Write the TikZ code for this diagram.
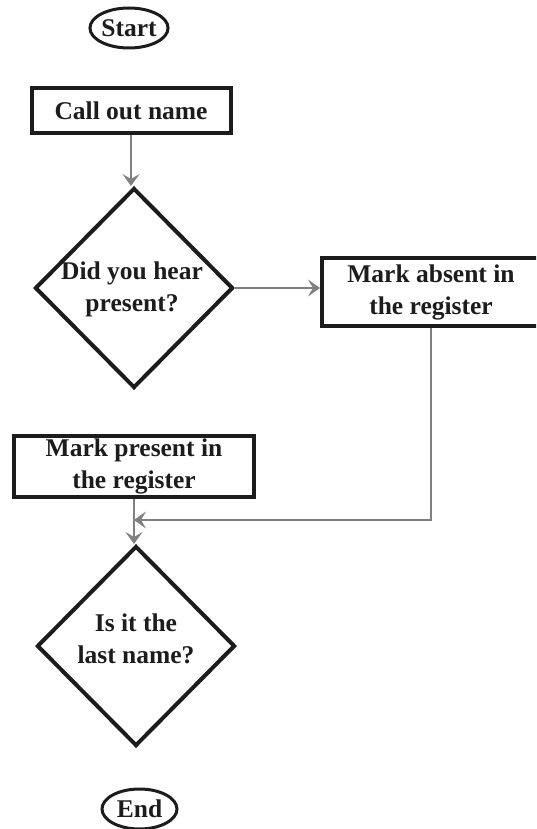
\documentclass[tikz,border=0pt]{standalone}
\usepackage{fontspec}
\setmainfont{Liberation Serif}
\usetikzlibrary{shapes.geometric,arrows.meta}
\definecolor{conngray}{RGB}{128,128,128}
\definecolor{ink}{RGB}{28,28,28}
\begin{document}
\begin{tikzpicture}[x=1pt,y=-1pt,
  lbl/.style={font=\bfseries\fontsize{25.5}{32}\selectfont, text=ink, align=center, inner sep=0pt},
  term/.style={lbl, ellipse, draw=ink, line width=3pt, minimum width=75pt, minimum height=40pt},
  proc/.style={lbl, rectangle, draw=ink, line width=4pt},
  dia/.style={diamond, draw=ink, line width=4pt, inner sep=0pt, minimum width=198pt, minimum height=200pt},
  conn/.style={draw=conngray, line width=2pt, -{Stealth[length=12pt,width=17pt,inset=5pt]}},
  line/.style={draw=conngray, line width=2pt}]
\useasboundingbox (0,0) rectangle (536,829);
\clip (0,0) rectangle (536,829);
\node[term] (start) at (129,28) {Start};
\node[proc, minimum width=199pt, minimum height=45pt] (co) at (131,110.5) {Call out name};
\node[dia] (d1) at (134,288) {};
\node[lbl] (t1) at (132,289) {Did you hear\\present?};
\node[proc, minimum width=218pt, minimum height=68pt] (ma) at (431,292) {Mark absent in\\the register};
\node[proc, minimum width=240pt, minimum height=61pt] (mp) at (134,466.5) {Mark present in\\the register};
\node[dia] (d2) at (136,646) {};
\node[lbl] (t2) at (136,639) {Is it the\\last name?};
\node[term] (end) at (139.5,809) {End};
\coordinate (j) at (134,520);
\draw[conn] (co.south) -- (co.south |- d1.north);
\draw[conn] (d1.east) -- (ma.west |- d1.east);
\draw[conn] (ma.south) |- (j);
\draw[conn] (mp.south) -- (mp.south |- d2.north);
\end{tikzpicture}
\end{document}
